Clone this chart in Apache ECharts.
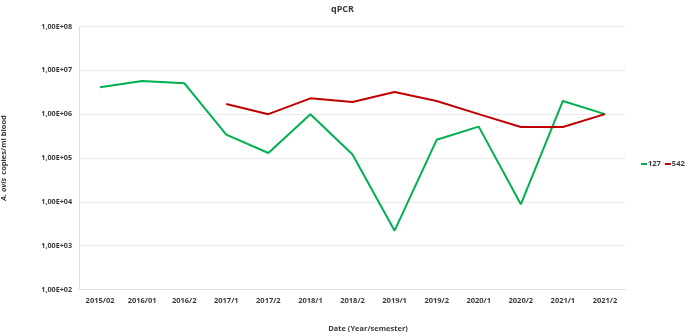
<!DOCTYPE html>
<html>
<head>
<meta charset="utf-8">
<script src="https://cdn.jsdelivr.net/npm/echarts@6/dist/echarts.min.js"></script>
<style>html,body{margin:0;padding:0;background:#fff}#c{width:685px;height:332px}</style>
</head>
<body>
<div id="c"></div>
<script>
var categories = ['2015/02','2016/01','2016/2','2017/1','2017/2','2018/1','2018/2','2019/1','2019/2','2020/1','2020/2','2021/1','2021/2'];
var series127 = [4.1e6, 5.7e6, 5.1e6, 3.4e5, 1.3e5, 1.0e6, 1.2e5, 2.2e3, 2.6e5, 5.2e5, 8.8e3, 2.0e6, 1.0e6];
var series542 = [null, null, null, 1.7e6, 1.0e6, 2.3e6, 1.9e6, 3.2e6, 2.0e6, 1.0e6, 5.1e5, 5.1e5, 1.0e6];
var yMin = 1e2, yMax = 1e8;

var FONT = '"Open Sans", sans-serif';
var TXT = '#3a3a3a';
var chart = echarts.init(document.getElementById('c'));
chart.setOption({
  animation: false,
  title: {
    text: 'qPCR', left: 'center', top: 0,
    textStyle: {fontSize: 9, fontWeight: 'bold', color: TXT, fontFamily: FONT}
  },
  legend: {
    data: ['127', '542'], left: 641, top: 160, width: 60, orient: 'horizontal', padding: 0,
    icon: 'rect', itemWidth: 6, itemHeight: 2, itemGap: 4,
    textStyle: {fontSize: 7.5, fontWeight: 'bold', color: TXT, fontFamily: FONT, padding: [0,0,0,-4]}
  },
  grid: {left: 79, right: 59, top: 26.5, bottom: 42.5, containLabel: false, outerBoundsMode: 'none'},
  xAxis: {
    type: 'category', data: categories, boundaryGap: true,
    name: 'Date (Year/semester)', nameLocation: 'middle', nameGap: 35,
    nameTextStyle: {fontSize: 7.5, fontWeight: 'bold', color: TXT, fontFamily: FONT, padding: [0,0,0,31]},
    axisLine: {lineStyle: {color: '#e0e0e0'}},
    axisTick: {show: false},
    axisLabel: {fontSize: 7.5, fontWeight: 'bold', color: TXT, fontFamily: FONT, margin: 7, interval: 0}
  },
  yAxis: {
    type: 'log', logBase: 10, min: yMin, max: yMax,
    name: '{i|A. ovis} {n|copies/ml blood}', nameLocation: 'middle', nameRotate: 90, nameGap: 69,
    nameTextStyle: {
      rich: {
        i: {fontSize: 7.5, fontWeight: 'bold', fontStyle: 'italic', color: TXT, fontFamily: FONT},
        n: {fontSize: 7.5, fontWeight: 'bold', color: TXT, fontFamily: FONT}
      }
    },
    axisLine: {show: true, lineStyle: {color: '#e0e0e0'}},
    axisTick: {show: false},
    splitLine: {lineStyle: {color: '#ebebeb'}},
    axisLabel: {
      fontSize: 7.2, fontWeight: 'bold', color: TXT, fontFamily: FONT, margin: 7,
      formatter: function (v) {
        var e = Math.round(Math.log10(v));
        return '1,00E+' + (e < 10 ? '0' : '') + e;
      }
    }
  },
  series: [
    {name: '127', type: 'line', data: series127, symbol: 'none', lineStyle: {color: '#00B050', width: 2}, itemStyle: {color: '#00B050'}},
    {name: '542', type: 'line', data: series542, symbol: 'none', lineStyle: {color: '#C00000', width: 2}, itemStyle: {color: '#C00000'}}
  ]
});
</script>
</body>
</html>
